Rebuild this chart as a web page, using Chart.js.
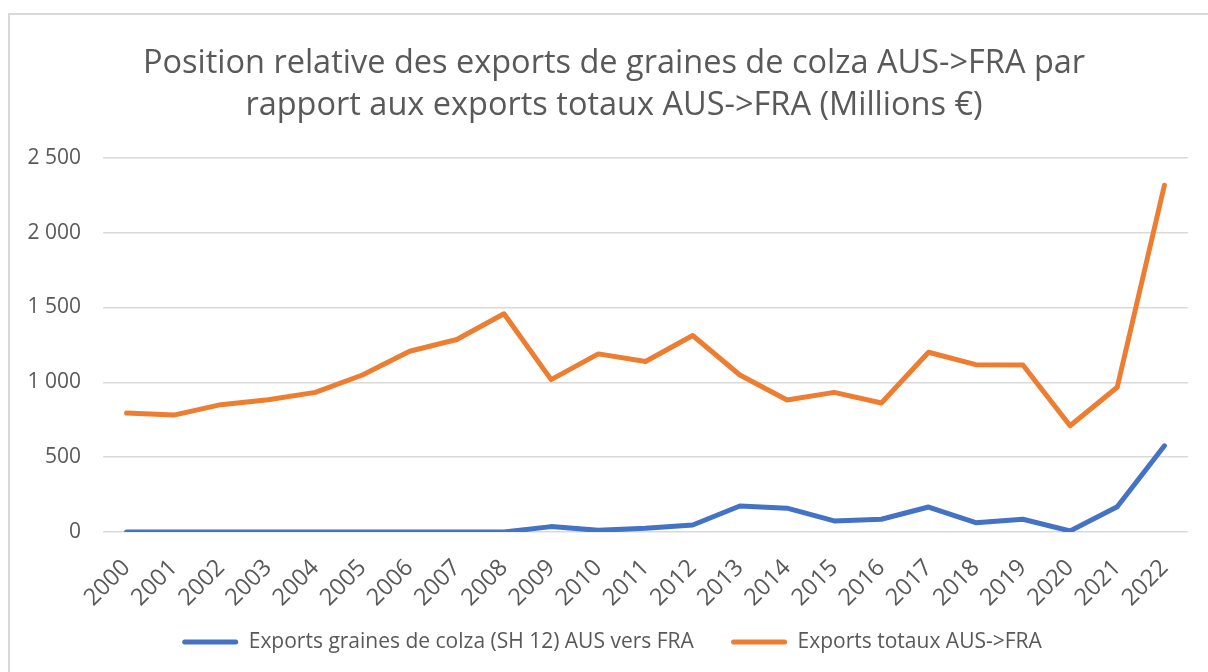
<!DOCTYPE html>
<html>
<head>
<meta charset="utf-8">
<script src="https://cdn.jsdelivr.net/npm/chart.js@4"></script>
<style>
  html, body { margin: 0; padding: 0; background: #fff; }
  #wrap { position: relative; width: 1208px; height: 672px; overflow: hidden; }
  #cadre { position: absolute; left: 8px; top: 13px; width: 1300px; height: 800px;
           border-left: 2px solid #d9d9d9; border-top: 2px solid #d9d9d9; pointer-events: none; }
  canvas { position: absolute; left: 0; top: 0; }
</style>
</head>
<body>
<div id="wrap">
  <canvas id="graphique" width="1208" height="672"></canvas>
  <div id="cadre"></div>
</div>
<script>
// donnees (millions €)
const annees = ['2000', '2001', '2002', '2003', '2004', '2005', '2006', '2007', '2008', '2009', '2010',
                '2011', '2012', '2013', '2014', '2015', '2016', '2017', '2018', '2019', '2020', '2021', '2022'];
const exportsColza = [0, 0, 0, 0, 0, 0, 0, 0, 0, 36, 11, 25, 47, 174, 159, 74, 85, 167, 62, 85, 7, 169, 576];
const exportsTotaux = [795, 781, 851, 884, 933, 1049, 1208, 1286, 1458, 1018, 1190, 1139, 1313, 1049,
                       882, 933, 862, 1201, 1118, 1116, 710, 967, 2317];
const ticksY = [0, 500, 1000, 1500, 2000, 2500];

const police = "'Open Sans', 'Noto Sans', sans-serif";
const gris = '#595959';

function formatMilliers(v) {
    return String(v).replace(/\B(?=(\d{3})+(?!\d))/g, ' ');
}

// le cadre de l'original est decale : titre et legende centres un peu plus a droite
const decalage = {
    id: 'decalage',
    afterLayout(chart) {
        chart.titleBlock.left = 20;
        chart.titleBlock.right = chart.width;
        chart.legend.left += 18;
        chart.legend.right += 18;
    }
};

const ctx = document.getElementById('graphique').getContext('2d');
new Chart(ctx, {
    type: 'line',
    data: {
        labels: annees,
        datasets: [{
            label: 'Exports graines de colza (SH 12) AUS vers FRA',
            data: exportsColza,
            borderColor: '#4472C4',
            backgroundColor: '#4472C4',
            borderWidth: 5,
            pointRadius: 0,
            borderCapStyle: 'round',
            borderJoinStyle: 'round',
            tension: 0
        }, {
            label: 'Exports totaux AUS->FRA',
            data: exportsTotaux,
            borderColor: '#ED7D31',
            backgroundColor: '#ED7D31',
            borderWidth: 5,
            pointRadius: 0,
            borderCapStyle: 'round',
            borderJoinStyle: 'round',
            tension: 0
        }]
    },
    options: {
        responsive: false,
        animation: false,
        layout: { padding: { left: 0, right: 20, top: 0, bottom: 9.5 } },
        plugins: {
            title: {
                display: true,
                text: ['Position relative des exports de graines de colza AUS->FRA par',
                       'rapport aux exports totaux AUS->FRA (Millions €)'],
                color: gris,
                font: { family: police, size: 32.5, weight: 'normal', lineHeight: 1.29 },
                padding: { top: 43, bottom: 31 }
            },
            legend: {
                position: 'bottom',
                labels: {
                    color: gris,
                    font: { family: police, size: 21 },
                    boxWidth: 56,
                    boxHeight: 5,
                    padding: 10,
                    generateLabels: function(chart) {
                        const items = Chart.defaults.plugins.legend.labels.generateLabels(chart);
                        return items.map((item, i) => {
                            item.fillStyle = item.strokeStyle;
                            item.lineWidth = 0;
                            item.borderRadius = 2.5;
                            // espace entre les deux entrees comme sur l'original
                            if (i === 0) item.text += '     ';
                            return item;
                        });
                    }
                }
            },
            tooltip: { enabled: false }
        },
        scales: {
            x: {
                offset: true,
                grid: { display: false, drawTicks: false },
                border: { display: false },
                ticks: {
                    color: gris,
                    font: { family: police, size: 23.5 },
                    minRotation: 45,
                    maxRotation: 45,
                    autoSkip: false,
                    padding: 22
                },
                afterFit: function(scale) {
                    scale.height = 89.5;
                }
            },
            y: {
                min: 0,
                max: 2500,
                afterBuildTicks: function(scale) {
                    scale.ticks = ticksY.map(v => ({ value: v }));
                },
                grid: { color: '#d9d9d9', lineWidth: 1.5, drawTicks: false },
                border: { display: false },
                ticks: {
                    color: gris,
                    font: { family: police, size: 21 },
                    padding: 22,
                    callback: function(value) {
                        return formatMilliers(value);
                    }
                },
                afterFit: function(scale) {
                    scale.width = 103;
                }
            }
        }
    },
    plugins: [decalage]
});
</script>
</body>
</html>
